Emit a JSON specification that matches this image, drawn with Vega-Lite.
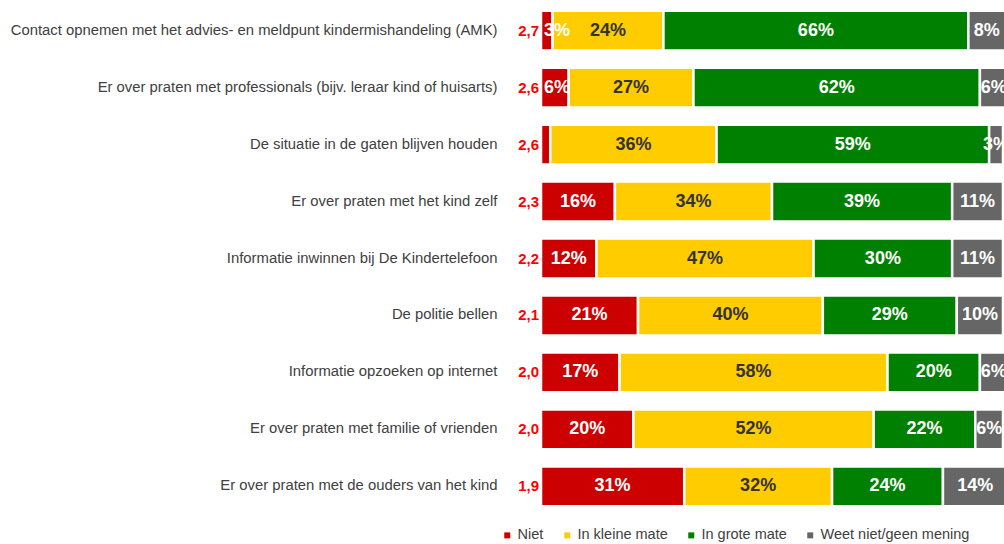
{
  "$schema": "https://vega.github.io/schema/vega-lite/v6.json",
  "width": 462,
  "height": 507,
  "padding": {"left": 5, "top": 5, "right": 0, "bottom": 0},
  "background": "white",
  "config": {"view": {"stroke": null}, "font": "Liberation Sans"},
  "datasets": {
    "resp": [
      {"item": "Contact opnemen met het advies- en meldpunt kindermishandeling (AMK)", "cat": "Niet", "k": 1, "pct": 2.5, "lbl": "3%"},
      {"item": "Contact opnemen met het advies- en meldpunt kindermishandeling (AMK)", "cat": "In kleine mate", "k": 2, "pct": 24, "lbl": "24%"},
      {"item": "Contact opnemen met het advies- en meldpunt kindermishandeling (AMK)", "cat": "In grote mate", "k": 3, "pct": 66, "lbl": "66%"},
      {"item": "Contact opnemen met het advies- en meldpunt kindermishandeling (AMK)", "cat": "Weet niet/geen mening", "k": 4, "pct": 8, "lbl": "8%"},
      {"item": "Er over praten met professionals (bijv. leraar kind of huisarts)", "cat": "Niet", "k": 1, "pct": 6, "lbl": "6%"},
      {"item": "Er over praten met professionals (bijv. leraar kind of huisarts)", "cat": "In kleine mate", "k": 2, "pct": 27, "lbl": "27%"},
      {"item": "Er over praten met professionals (bijv. leraar kind of huisarts)", "cat": "In grote mate", "k": 3, "pct": 62, "lbl": "62%"},
      {"item": "Er over praten met professionals (bijv. leraar kind of huisarts)", "cat": "Weet niet/geen mening", "k": 4, "pct": 6, "lbl": "6%"},
      {"item": "De situatie in de gaten blijven houden", "cat": "Niet", "k": 1, "pct": 2, "lbl": ""},
      {"item": "De situatie in de gaten blijven houden", "cat": "In kleine mate", "k": 2, "pct": 36, "lbl": "36%"},
      {"item": "De situatie in de gaten blijven houden", "cat": "In grote mate", "k": 3, "pct": 59, "lbl": "59%"},
      {"item": "De situatie in de gaten blijven houden", "cat": "Weet niet/geen mening", "k": 4, "pct": 3, "lbl": "3%"},
      {"item": "Er over praten met het kind zelf", "cat": "Niet", "k": 1, "pct": 16, "lbl": "16%"},
      {"item": "Er over praten met het kind zelf", "cat": "In kleine mate", "k": 2, "pct": 34, "lbl": "34%"},
      {"item": "Er over praten met het kind zelf", "cat": "In grote mate", "k": 3, "pct": 39, "lbl": "39%"},
      {"item": "Er over praten met het kind zelf", "cat": "Weet niet/geen mening", "k": 4, "pct": 11, "lbl": "11%"},
      {"item": "Informatie inwinnen bij De Kindertelefoon", "cat": "Niet", "k": 1, "pct": 12, "lbl": "12%"},
      {"item": "Informatie inwinnen bij De Kindertelefoon", "cat": "In kleine mate", "k": 2, "pct": 47, "lbl": "47%"},
      {"item": "Informatie inwinnen bij De Kindertelefoon", "cat": "In grote mate", "k": 3, "pct": 30, "lbl": "30%"},
      {"item": "Informatie inwinnen bij De Kindertelefoon", "cat": "Weet niet/geen mening", "k": 4, "pct": 11, "lbl": "11%"},
      {"item": "De politie bellen", "cat": "Niet", "k": 1, "pct": 21, "lbl": "21%"},
      {"item": "De politie bellen", "cat": "In kleine mate", "k": 2, "pct": 40, "lbl": "40%"},
      {"item": "De politie bellen", "cat": "In grote mate", "k": 3, "pct": 29, "lbl": "29%"},
      {"item": "De politie bellen", "cat": "Weet niet/geen mening", "k": 4, "pct": 10, "lbl": "10%"},
      {"item": "Informatie opzoeken op internet", "cat": "Niet", "k": 1, "pct": 17, "lbl": "17%"},
      {"item": "Informatie opzoeken op internet", "cat": "In kleine mate", "k": 2, "pct": 58, "lbl": "58%"},
      {"item": "Informatie opzoeken op internet", "cat": "In grote mate", "k": 3, "pct": 20, "lbl": "20%"},
      {"item": "Informatie opzoeken op internet", "cat": "Weet niet/geen mening", "k": 4, "pct": 6, "lbl": "6%"},
      {"item": "Er over praten met familie of vrienden", "cat": "Niet", "k": 1, "pct": 20, "lbl": "20%"},
      {"item": "Er over praten met familie of vrienden", "cat": "In kleine mate", "k": 2, "pct": 52, "lbl": "52%"},
      {"item": "Er over praten met familie of vrienden", "cat": "In grote mate", "k": 3, "pct": 22, "lbl": "22%"},
      {"item": "Er over praten met familie of vrienden", "cat": "Weet niet/geen mening", "k": 4, "pct": 6, "lbl": "6%"},
      {"item": "Er over praten met de ouders van het kind", "cat": "Niet", "k": 1, "pct": 31, "lbl": "31%"},
      {"item": "Er over praten met de ouders van het kind", "cat": "In kleine mate", "k": 2, "pct": 32, "lbl": "32%"},
      {"item": "Er over praten met de ouders van het kind", "cat": "In grote mate", "k": 3, "pct": 24, "lbl": "24%"},
      {"item": "Er over praten met de ouders van het kind", "cat": "Weet niet/geen mening", "k": 4, "pct": 14, "lbl": "14%"}
    ],
    "mean": [
      {"item": "Contact opnemen met het advies- en meldpunt kindermishandeling (AMK)", "m": "2,7"},
      {"item": "Er over praten met professionals (bijv. leraar kind of huisarts)", "m": "2,6"},
      {"item": "De situatie in de gaten blijven houden", "m": "2,6"},
      {"item": "Er over praten met het kind zelf", "m": "2,3"},
      {"item": "Informatie inwinnen bij De Kindertelefoon", "m": "2,2"},
      {"item": "De politie bellen", "m": "2,1"},
      {"item": "Informatie opzoeken op internet", "m": "2,0"},
      {"item": "Er over praten met familie of vrienden", "m": "2,0"},
      {"item": "Er over praten met de ouders van het kind", "m": "1,9"}
    ]
  },
  "encoding": {
    "y": {
      "field": "item",
      "type": "nominal",
      "sort": [
        "Contact opnemen met het advies- en meldpunt kindermishandeling (AMK)",
        "Er over praten met professionals (bijv. leraar kind of huisarts)",
        "De situatie in de gaten blijven houden",
        "Er over praten met het kind zelf",
        "Informatie inwinnen bij De Kindertelefoon",
        "De politie bellen",
        "Informatie opzoeken op internet",
        "Er over praten met familie of vrienden",
        "Er over praten met de ouders van het kind"
      ],
      "scale": {"paddingInner": 0.3, "paddingOuter": 0.1},
      "axis": {
        "title": null,
        "domain": false,
        "ticks": false,
        "labelPadding": 44,
        "labelFontSize": 14.85,
        "labelColor": "#404040",
        "labelLimit": 600,
        "minExtent": 536,
        "maxExtent": 536
      }
    }
  },
  "layer": [
    {
      "data": {"name": "resp"},
      "mark": {"type": "bar", "stroke": "white", "strokeWidth": 2.5},
      "encoding": {
        "x": {"field": "pct", "type": "quantitative", "stack": "zero", "scale": {"domain": [0, 100], "nice": false, "zero": true}, "axis": null},
        "color": {
          "field": "cat",
          "type": "nominal",
          "scale": {
            "domain": ["Niet", "In kleine mate", "In grote mate", "Weet niet/geen mening"],
            "range": ["#CC0000", "#FFCC00", "#008000", "#666666"]
          },
          "legend": {
            "orient": "none",
            "legendX": -41,
            "legendY": 523,
            "direction": "horizontal",
            "columns": 4,
            "title": null,
            "symbolType": "square",
            "symbolSize": 36,
            "symbolStrokeWidth": 0,
            "labelFontSize": 14.5,
            "labelColor": "#404040",
            "columnPadding": 16,
            "labelOffset": 3
          }
        },
        "order": {"field": "k", "type": "quantitative"}
      }
    },
    {
      "data": {"name": "resp"},
      "mark": {"type": "text", "fontSize": 18, "fontWeight": "bold", "baseline": "middle", "align": "center"},
      "encoding": {
        "x": {"field": "pct", "type": "quantitative", "stack": "zero", "bandPosition": 0.5},
        "detail": {"field": "cat"},
        "order": {"field": "k", "type": "quantitative"},
        "text": {"condition": {"test": "datum.k == 1 && datum.pct < 8", "value": ""}, "field": "lbl"},
        "color": {"condition": {"test": "datum.cat === 'In kleine mate'", "value": "#333333"}, "value": "white"}
      }
    },
    {
      "data": {"name": "resp"},
      "transform": [{"filter": "datum.k == 1 && datum.pct < 8"}],
      "mark": {"type": "text", "fontSize": 18, "fontWeight": "bold", "baseline": "middle", "align": "left", "dx": 3, "color": "white"},
      "encoding": {
        "x": {"datum": 0, "type": "quantitative"},
        "text": {"field": "lbl"}
      }
    },
    {
      "data": {"name": "mean"},
      "mark": {"type": "text", "fontSize": 15, "fontWeight": "bold", "align": "right", "baseline": "middle", "dx": -2, "color": "#FF0000"},
      "encoding": {
        "x": {"datum": 0, "type": "quantitative"},
        "text": {"field": "m"}
      }
    }
  ]
}
